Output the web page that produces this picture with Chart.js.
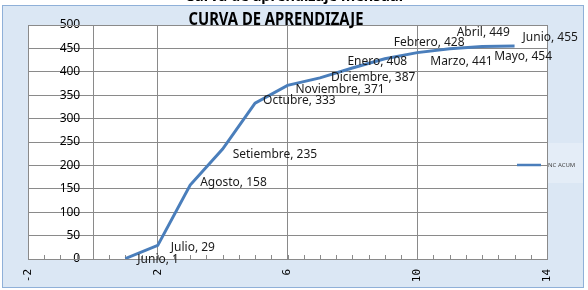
<!DOCTYPE html>
<html><head><meta charset="utf-8">
<script src="https://cdn.jsdelivr.net/npm/chart.js@4/dist/chart.umd.min.js"></script>
<style>html,body{margin:0;padding:0;background:#fff;overflow:hidden}#wrap{width:588px;height:290px;position:relative}canvas{display:block}</style>
</head><body><div id="wrap"><canvas id="c" width="588" height="290"></canvas></div>
<script>
// ---- data ----
const months = ['Junio','Julio','Agosto','Setiembre','Octubre','Noviembre','Diciembre','Enero','Febrero','Marzo','Abril','Mayo','Junio'];
const periods = [1,2,3,4,5,6,7,8,9,10,11,12,13];
const ncAcum = [1,29,158,235,333,371,387,408,428,441,449,454,455];
const seriesName = 'NC ACUM';
const chartTitle = 'CURVA DE APRENDIZAJE';
const topTitle = 'Curva de aprendizaje mensual';
const xTickLabels = [-2,2,6,10,14];
const yTickLabels = [0,50,100,150,200,250,300,350,400,450,500];
const yAxisCrossesAt = 0;

// ---- label placement (style) ----
const labelOffsets = [[12,1],[13,2],[10,-2],[10,6],[8,-3],[8,4],[11,0],[-5,-6],[9,-16],[13,9],[7,-16],[12,10],[8,-8]];
const yLabelGapUnits = 0.39; // gap between y labels and the value axis, in x units

const LINE = '#4a7ebb';
const GRID = '#8a8a8a';
const FONT = '"Noto Sans", sans-serif';

const framePlugin = {
  id: 'frame',
  beforeDraw(chart) {
    const ctx = chart.ctx, a = chart.chartArea;
    ctx.save();
    ctx.fillStyle = '#ffffff';
    ctx.fillRect(0, 0, 588, 290);
    ctx.fillStyle = '#dbe7f4';
    ctx.fillRect(2, 5, 582, 283);
    ctx.strokeStyle = '#8fb0d8';
    ctx.lineWidth = 1;
    ctx.strokeRect(2.5, 5.5, 581, 282);
    ctx.fillStyle = 'rgba(255,255,255,0.25)';
    ctx.fillRect(543, 143, 40, 40);
    ctx.fillStyle = '#ffffff';
    ctx.fillRect(a.left, a.top, a.right - a.left, a.bottom - a.top);
    ctx.restore();
  },
  beforeDatasetsDraw(chart) {
    const ctx = chart.ctx, xs = chart.scales.x, a = chart.chartArea;
    ctx.save();
    ctx.strokeStyle = GRID;
    ctx.lineWidth = 1;
    ctx.beginPath();
    for (let v = xs.min; v <= xs.max + 1e-9; v += 0.5) {
      const px = Math.round(xs.getPixelForValue(v)) + 0.5;
      ctx.moveTo(px, a.bottom);
      ctx.lineTo(px, a.bottom - 4);
    }
    // value axis line at x = 0
    const ax = Math.round(xs.getPixelForValue(yAxisCrossesAt)) + 0.5;
    ctx.moveTo(ax, a.top);
    ctx.lineTo(ax, a.bottom);
    ctx.stroke();
    ctx.strokeRect(Math.round(a.left) + 0.5, Math.round(a.top) + 0.5, Math.round(a.right - a.left), Math.round(a.bottom - a.top));
    ctx.restore();
  },
  afterDraw(chart) {
    const ctx = chart.ctx;
    const meta = chart.getDatasetMeta(0);
    ctx.save();
    ctx.font = '12px ' + FONT;
    ctx.fillStyle = '#1a1a1a';
    ctx.textBaseline = 'middle';
    ctx.textAlign = 'left';
    meta.data.forEach((pt, i) => {
      const [dx, dy] = labelOffsets[i];
      ctx.fillText(months[i] + ', ' + ncAcum[i], pt.x + dx, pt.y + dy);
    });
    ctx.font = 'bold 17px ' + FONT;
    ctx.fillStyle = '#000';
    ctx.textBaseline = 'alphabetic';
    ctx.textAlign = 'center';
    let w = ctx.measureText(chartTitle).width;
    ctx.save();
    ctx.translate(276, 25);
    ctx.scale(175 / w, 1);
    ctx.fillText(chartTitle, 0, 0);
    ctx.restore();
    ctx.font = 'bold 15px ' + FONT;
    w = ctx.measureText(topTitle).width;
    ctx.save();
    ctx.beginPath(); ctx.rect(0, 0, 588, 5); ctx.clip();
    ctx.translate(294, 1);
    ctx.scale(218 / w, 1);
    ctx.fillText(topTitle, 0, 0);
    ctx.restore();
    ctx.strokeStyle = LINE;
    ctx.lineWidth = 2.5;
    ctx.beginPath(); ctx.moveTo(517, 165); ctx.lineTo(541, 165); ctx.stroke();
    ctx.font = '6px ' + FONT;
    ctx.fillStyle = '#444';
    ctx.textAlign = 'left';
    ctx.textBaseline = 'middle';
    ctx.fillText(chart.data.datasets[0].label, 548, 165);
    ctx.restore();
  }
};

new Chart(document.getElementById('c'), {
  type: 'line',
  data: {
    datasets: [{
      label: seriesName,
      data: periods.map((p, i) => ({x: p, y: ncAcum[i]})),
      borderColor: LINE,
      borderWidth: 3,
      pointRadius: 0,
      tension: 0,
      fill: false
    }]
  },
  options: {
    responsive: false,
    animation: false,
    devicePixelRatio: 1,
    layout: {padding: {left: 28, right: 41, top: 25, bottom: 0}},
    plugins: {legend: {display: false}, title: {display: false}, tooltip: {enabled: false}},
    scales: {
      x: {
        type: 'linear',
        min: -2, max: 14,
        afterBuildTicks: s => { s.ticks = xTickLabels.map(v => ({value: v})); },
        afterFit: s => { s.height = 31; },
        grid: {color: GRID, drawTicks: false},
        border: {color: GRID},
        ticks: {
          autoSkip: false, minRotation: 90, maxRotation: 90, padding: 10,
          font: {family: '"DejaVu Sans Mono", monospace', size: 11}, color: '#000'
        }
      },
      y: {
        type: 'linear',
        position: {x: yAxisCrossesAt - yLabelGapUnits},
        min: 0, max: 500,
        afterBuildTicks: s => { s.ticks = yTickLabels.map(v => ({value: v})); },
        grid: {color: GRID, drawTicks: false},
        border: {display: false},
        ticks: {padding: 0, font: {family: FONT, size: 12}, color: '#000'}
      }
    }
  },
  plugins: [framePlugin]
});
</script>
</body></html>
